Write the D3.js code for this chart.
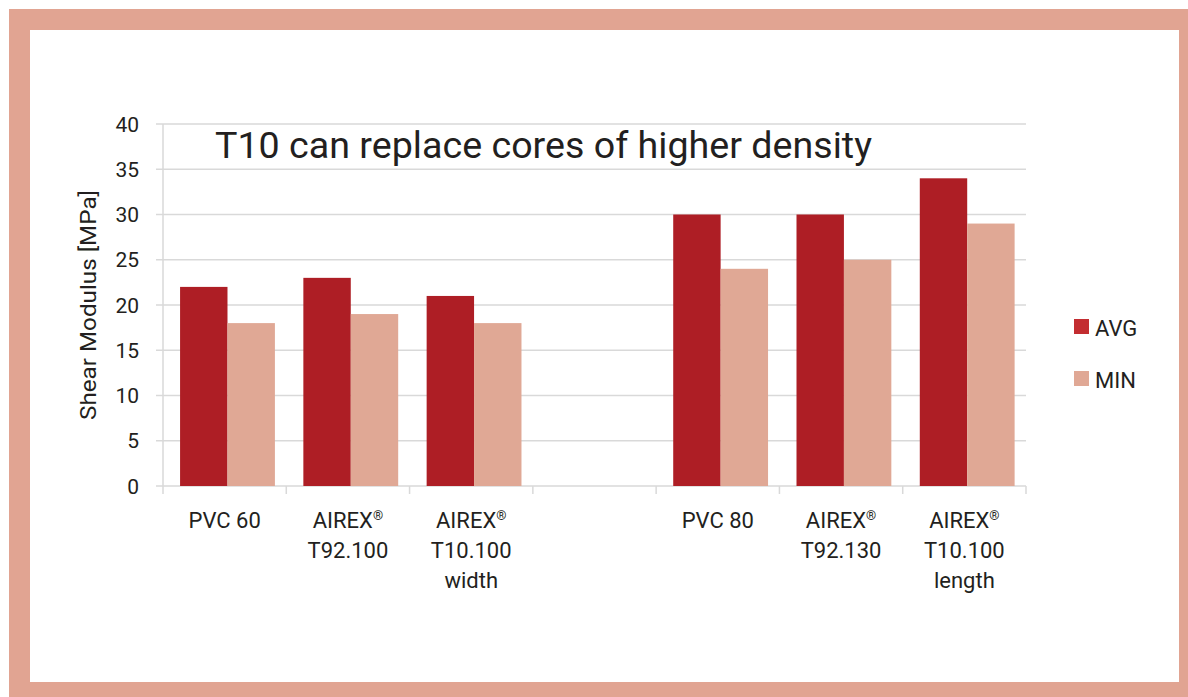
<!DOCTYPE html>
<html>
<head>
<meta charset="utf-8">
<script src="https://cdn.jsdelivr.net/npm/d3@7"></script>
<style>
  body { margin: 0; background: #fff; }
  text { font-family: Roboto, "Open Sans", sans-serif; fill: #231f20; }
</style>
</head>
<body>
<svg width="1188" height="697"></svg>
<script>
// data
const categories = ["PVC 60", "AIREX® T92.100", "AIREX® T10.100 width", "", "PVC 80", "AIREX® T92.130", "AIREX® T10.100 length"];
const labelLines = [["PVC 60"], ["AIREX®", "T92.100"], ["AIREX®", "T10.100", "width"], [], ["PVC 80"], ["AIREX®", "T92.130"], ["AIREX®", "T10.100", "length"]];
const avgValues = [22, 23, 21, null, 30, 30, 34];
const minValues = [18, 19, 18, null, 24, 25, 29];
const series = ["AVG", "MIN"];
const yTicks = [0, 5, 10, 15, 20, 25, 30, 35, 40];

const colors = { AVG: '#ae1e25', MIN: '#e0a895' };
const legendColors = { AVG: '#c32d31', MIN: '#e0a895' };

let svg = d3.select('svg');

// frame
svg.append('rect').attr('x', 9).attr('y', 9).attr('width', 1179).attr('height', 688).attr('fill', '#e1a492');
svg.append('rect').attr('x', 30).attr('y', 30).attr('width', 1149).attr('height', 652).attr('fill', '#fff');

let keys = categories.map((c, i) => i);
let xScale = d3.scaleBand().domain(keys).range([163, 1026]);
let x1 = d3.scaleBand().domain(series).range([0, xScale.bandwidth()]).paddingOuter(0.3).align(0.6);
let yScale = d3.scaleLinear().domain([0, 40]).range([486, 124]);

// gridlines
svg.append('g').selectAll('line')
    .data(yTicks)
    .enter().append('line')
    .attr('x1', 156).attr('x2', 1026)
    .attr('y1', d => yScale(d)).attr('y2', d => yScale(d))
    .attr('stroke', '#d9d9d9').attr('stroke-width', 1.5);

// y axis line
svg.append('line').attr('x1', 163).attr('x2', 163)
    .attr('y1', yScale(40)).attr('y2', yScale(0))
    .attr('stroke', '#d9d9d9').attr('stroke-width', 1.5);

// y tick labels
svg.append('g').selectAll('text')
    .data(yTicks)
    .enter().append('text')
    .attr('x', 139)
    .attr('y', d => yScale(d) + 7.5)
    .attr('text-anchor', 'end')
    .attr('font-size', '21px')
    .text(d => d);

// x ticks at band edges
let edges = keys.map(k => xScale(k)).concat([xScale.range()[1]]);
svg.append('g').selectAll('line')
    .data(edges)
    .enter().append('line')
    .attr('x1', d => d).attr('x2', d => d)
    .attr('y1', yScale(0)).attr('y2', yScale(0) + 8)
    .attr('stroke', '#d9d9d9').attr('stroke-width', 1.5);

// bars
let rows = keys.map(i => ({ i: i, AVG: avgValues[i], MIN: minValues[i] }));
let groups = svg.append('g').selectAll('g')
    .data(rows)
    .enter().append('g')
    .attr('transform', d => `translate(${xScale(d.i)},0)`);
groups.selectAll('rect')
    .data(d => series.filter(s => d[s] != null).map(s => ({ s: s, v: d[s] })))
    .enter().append('rect')
    .attr('x', d => x1(d.s))
    .attr('width', x1.bandwidth())
    .attr('y', d => yScale(d.v))
    .attr('height', d => yScale(0) - yScale(d.v))
    .attr('fill', d => colors[d.s]);

// category labels, ® drawn as superscript
svg.append('g').selectAll('g')
    .data(keys)
    .enter().append('g')
    .each(function(k) {
        let cx = xScale(k) + xScale.bandwidth() / 2;
        labelLines[k].forEach((line, j) => {
            let t = d3.select(this).append('text')
                .attr('text-anchor', 'middle')
                .attr('font-size', '22px')
                .attr('x', cx)
                .attr('y', 528 + j * 30);
            if (line.endsWith('®')) {
                t.append('tspan').text(line.slice(0, -1));
                t.append('tspan').attr('font-size', '13px').attr('dy', -8).text('®');
            } else {
                t.text(line);
            }
        });
    });

// title
svg.append('text')
    .attr('x', 215).attr('y', 158)
    .attr('font-size', '37px')
    .attr('textLength', 657)
    .attr('lengthAdjust', 'spacingAndGlyphs')
    .text('T10 can replace cores of higher density');

// y axis title
svg.append('text')
    .attr('transform', 'translate(96,305) rotate(-90)')
    .attr('text-anchor', 'middle')
    .attr('font-size', '22px')
    .attr('textLength', 230)
    .attr('lengthAdjust', 'spacingAndGlyphs')
    .text('Shear Modulus [MPa]');

// legend
let legend = svg.append('g').selectAll('g')
    .data(series)
    .enter().append('g')
    .attr('transform', (d, i) => `translate(1074,${319 + i * 52})`);
legend.append('rect')
    .attr('width', 15).attr('height', 15)
    .attr('fill', d => legendColors[d]);
legend.append('text')
    .attr('x', 21).attr('y', 17)
    .attr('font-size', '22px')
    .text(d => d);
</script>
</body>
</html>
